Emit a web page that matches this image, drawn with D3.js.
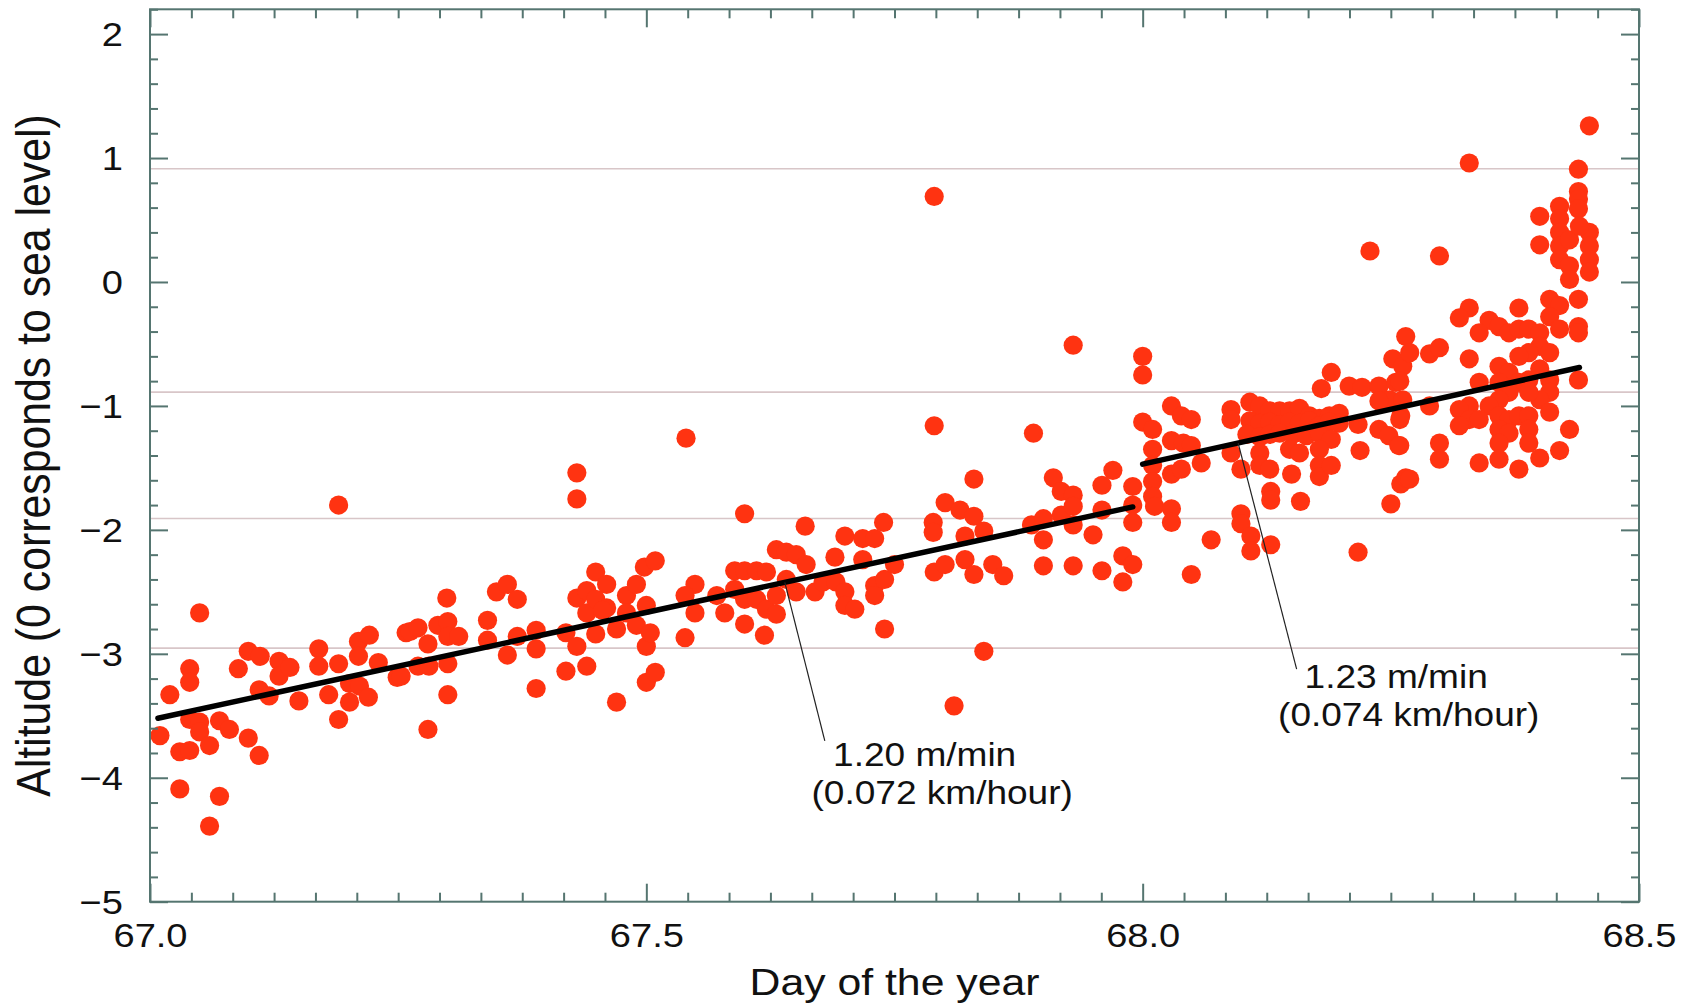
<!DOCTYPE html>
<html><head><meta charset="utf-8">
<script src="https://cdn.jsdelivr.net/npm/d3@7"></script>
<style>
html,body{margin:0;padding:0;background:#fff;}
svg{display:block;font-family:"Liberation Sans",Arial,Helvetica,sans-serif;}
</style>
</head><body>
<svg id="chart" width="1690" height="1007"></svg>
<script>
// ---------- data ----------
const xDomain = [67.0, 68.5];
const yDomain = [-5, 2.2];
const xMajorTicks = [67.0, 67.5, 68.0, 68.5];
const yMajorTicks = [-5, -4, -3, -2, -1, 0, 1, 2];
const gridValues = [0.913, -0.889, -1.908, -2.954];
const fitLine1 = [[67.008, -3.52], [67.990, -1.815]];
const fitLine2 = [[68.000, -1.47], [68.440, -0.69]];
const xTitle = "Day of the year";
const yTitle = "Altitude (0 corresponds to sea level)";
const annotationText1 = ["1.20 m/min", "(0.072 km/hour)"];
const annotationText2 = ["1.23 m/min", "(0.074 km/hour)"];

const points = [
[67.190,-1.80],[67.050,-2.67],[67.020,-3.33],[67.040,-3.12],[67.040,-3.23],[67.010,-3.66],[67.040,-3.53],[67.050,-3.55],[67.050,-3.63],[67.030,-3.79],[67.040,-3.78],[67.060,-3.74],[67.070,-3.54],[67.080,-3.61],[67.030,-4.09],[67.070,-4.15],[67.060,-4.39],[67.089,-3.12],[67.099,-2.98],[67.111,-3.02],[67.099,-3.68],[67.110,-3.82],[67.110,-3.29],[67.120,-3.34],[67.130,-3.06],[67.130,-3.18],[67.141,-3.11],[67.150,-3.38],[67.170,-2.96],[67.170,-3.10],[67.180,-3.33],[67.190,-3.08],[67.190,-3.53],[67.201,-3.39],[67.201,-3.24],[67.210,-2.90],[67.210,-3.02],[67.211,-3.26],[67.220,-3.35],[67.221,-2.85],[67.230,-3.07],[67.249,-3.19],[67.258,-2.83],
[67.430,-1.54],[67.430,-1.75],[67.299,-2.55],[67.349,-2.50],[67.360,-2.44],[67.370,-2.56],[67.340,-2.73],[67.340,-2.89],[67.262,-2.82],[67.270,-2.79],[67.280,-2.92],[67.270,-3.10],[67.281,-3.10],[67.253,-3.18],[67.290,-2.77],[67.300,-2.74],[67.300,-2.86],[67.311,-2.86],[67.300,-3.08],[67.300,-3.33],[67.280,-3.61],[67.360,-3.01],[67.370,-2.86],[67.389,-2.81],[67.389,-2.96],[67.389,-3.28],[67.419,-2.83],[67.419,-3.14],[67.430,-2.94],[67.430,-2.55],[67.440,-3.10],[67.440,-2.67],[67.440,-2.49],[67.449,-2.34],[67.449,-2.56],[67.449,-2.84],[67.460,-2.44],[67.460,-2.63],[67.470,-2.80],[67.470,-3.39],[67.480,-2.53],[67.480,-2.67],[67.490,-2.44],[67.498,-2.30],[67.509,-2.25],[67.500,-2.61],[67.500,-2.94],[67.500,-3.23],[67.509,-3.15],[67.490,-2.77],[67.456,-2.65],
[67.540,-1.26],[67.599,-1.87],[67.660,-1.97],[67.700,-2.05],[67.718,-2.07],[67.730,-2.07],[67.739,-1.94],[67.549,-2.44],[67.539,-2.53],[67.549,-2.67],[67.539,-2.87],[67.504,-2.83],[67.571,-2.53],[67.579,-2.67],[67.589,-2.33],[67.599,-2.33],[67.611,-2.33],[67.621,-2.34],[67.589,-2.48],[67.599,-2.56],[67.599,-2.76],[67.611,-2.56],[67.621,-2.64],[67.631,-2.68],[67.619,-2.85],[67.631,-2.53],[67.631,-2.16],[67.641,-2.18],[67.651,-2.20],[67.661,-2.28],[67.651,-2.50],[67.670,-2.50],[67.678,-2.42],[67.690,-2.22],[67.691,-2.42],[67.700,-2.50],[67.700,-2.61],[67.710,-2.64],[67.718,-2.24],[67.730,-2.45],[67.730,-2.53],[67.740,-2.40],[67.740,-2.80],[67.750,-2.28],[67.641,-2.40],
[67.790,0.69],[67.930,-0.51],[68.000,-0.60],[68.000,-0.75],[67.790,-1.16],[67.890,-1.22],[68.000,-1.13],[68.010,-1.19],[67.830,-1.59],[67.910,-1.58],[67.970,-1.52],[67.959,-1.64],[67.918,-1.69],[67.930,-1.72],[67.801,-1.78],[67.816,-1.84],[67.830,-1.89],[67.789,-1.94],[67.789,-2.02],[67.821,-2.05],[67.840,-2.01],[67.888,-1.96],[67.900,-1.91],[67.900,-2.08],[67.918,-1.88],[67.930,-1.81],[67.930,-1.96],[67.950,-2.04],[67.959,-1.84],[67.990,-1.65],[67.990,-1.80],[67.990,-1.94],[68.010,-1.35],[68.010,-1.48],[68.010,-1.61],[68.010,-1.73],[67.790,-2.34],[67.801,-2.28],[67.821,-2.24],[67.830,-2.36],[67.849,-2.28],[67.860,-2.37],[67.900,-2.29],[67.930,-2.29],[67.959,-2.33],[67.980,-2.21],[67.990,-2.28],[67.980,-2.42],[67.840,-2.98],[67.810,-3.42],
[68.229,0.25],[68.190,-0.73],[68.180,-0.86],[68.265,-0.44],[68.252,-0.62],[68.262,-0.68],[68.208,-0.84],[68.221,-0.85],[68.238,-0.84],[68.255,-0.81],[68.012,-1.81],
[68.029,-1.00],[68.039,-1.08],[68.049,-1.11],[68.029,-1.28],[68.041,-1.30],[68.049,-1.32],[68.029,-1.55],[68.039,-1.51],[68.059,-1.46],[68.029,-1.83],[68.029,-1.94],[68.069,-2.08],[68.049,-2.36],[68.089,-1.03],[68.089,-1.11],[68.089,-1.38],[68.099,-1.51],[68.099,-1.87],[68.099,-1.95],[68.109,-2.05],[68.109,-2.17],[68.129,-2.12],
[68.108,-0.97],[68.118,-1.00],[68.128,-1.04],[68.138,-1.04],[68.148,-1.04],[68.158,-1.02],[68.168,-1.08],[68.178,-1.10],[68.188,-1.08],[68.198,-1.06],
[68.108,-1.12],[68.118,-1.14],[68.128,-1.13],[68.138,-1.15],[68.148,-1.13],[68.158,-1.14],[68.168,-1.12],[68.178,-1.16],[68.188,-1.13],[68.198,-1.14],
[68.105,-1.23],[68.118,-1.25],[68.128,-1.23],[68.138,-1.22],[68.151,-1.23],[68.165,-1.24],[68.178,-1.22],[68.190,-1.27],
[68.118,-1.38],[68.118,-1.48],[68.128,-1.51],[68.148,-1.35],[68.158,-1.38],[68.150,-1.55],[68.129,-1.69],[68.129,-1.76],[68.159,-1.77],[68.178,-1.35],[68.178,-1.48],[68.178,-1.57],[68.190,-1.48],
[68.217,-1.15],[68.219,-1.36],[68.238,-1.19],[68.248,-1.24],[68.258,-1.32],[68.260,-1.63],[68.250,-1.79],[68.217,-2.18],[68.260,-1.08],[68.265,-1.58],[68.249,-0.95],[68.262,-0.95],[68.238,-0.96],
[68.450,1.26],[68.329,0.96],[68.439,0.91],[68.439,0.73],[68.439,0.67],[68.439,0.59],[68.420,0.61],[68.400,0.53],[68.400,0.30],[68.420,0.51],[68.420,0.40],[68.420,0.29],[68.420,0.18],[68.430,0.34],[68.430,0.13],[68.430,0.02],[68.450,0.40],[68.450,0.29],[68.450,0.18],[68.450,0.08],[68.440,0.45],[68.439,-0.14],[68.439,-0.36],[68.439,-0.41],[68.439,-0.79],[68.299,0.21],[68.329,-0.21],[68.319,-0.29],[68.379,-0.21],[68.410,-0.14],[68.420,-0.19],[68.410,-0.28],[68.349,-0.31],[68.359,-0.36],[68.339,-0.41],[68.369,-0.41],[68.379,-0.38],[68.389,-0.38],[68.400,-0.41],[68.420,-0.38],[68.400,-0.52],[68.389,-0.57],[68.379,-0.60],[68.410,-0.57],[68.329,-0.62],[68.359,-0.68],[68.369,-0.73],[68.339,-0.81],[68.359,-0.81],[68.379,-0.81],[68.389,-0.79],[68.400,-0.70],[68.410,-0.79],[68.410,-0.89],[68.400,-0.95],[68.389,-0.89],[68.369,-0.89],[68.359,-0.95],[68.349,-1.00],[68.329,-1.00],[68.319,-1.03],[68.329,-1.11],[68.339,-1.11],[68.359,-1.08],[68.369,-1.11],[68.379,-1.08],[68.389,-1.08],[68.359,-1.19],[68.369,-1.22],[68.389,-1.19],[68.389,-1.30],[68.359,-1.30],[68.359,-1.43],[68.339,-1.46],[68.379,-1.51],[68.400,-1.42],[68.420,-1.36],[68.430,-1.19],[68.410,-1.05],[68.319,-1.16],[68.299,-1.30],[68.299,-1.43],[68.289,-1.00],[68.269,-0.57],[68.289,-0.58],[68.299,-0.53],[68.259,-0.80],[68.259,-1.11],[68.259,-1.32],[68.269,-1.59]
];

// annotation anchors in data units: leader from fit line at `at`, leader end, text line starts
const annotations = [
  {line: fitLine1, at: 67.6395, end: [67.6798, -3.702], text: annotationText1, textPos: [[67.6881, -3.903], [67.6664, -4.212]]},
  {line: fitLine2, at: 68.0962, end: [68.1551, -3.123], text: annotationText2, textPos: [[68.1631, -3.277], [68.1364, -3.583]]}
];

// ---------- layout ----------
const W = 1690, H = 1007;
const margin = {left: 150, right: 51, top: 9.3, bottom: 105.3};
const SX = 1.12;           // horizontal stretch of the glyphs in the reference
const axisColor = "#557570";
const fontSize = 34;

const svg = d3.select("#chart");
const x = d3.scaleLinear().domain(xDomain).range([margin.left, W - margin.right]);
const y = d3.scaleLinear().domain(yDomain).range([H - margin.bottom, margin.top]);

// gridlines
svg.append("g").selectAll("line").data(gridValues).join("line")
  .attr("x1", x(xDomain[0])).attr("x2", x(xDomain[1]))
  .attr("y1", d => y(d)).attr("y2", d => y(d))
  .attr("stroke", "#d8c6c8").attr("stroke-width", 1.6);

// points
svg.append("g").selectAll("circle").data(points).join("circle")
  .attr("cx", d => x(d[0])).attr("cy", d => y(d[1]))
  .attr("r", 9.6).attr("fill", "#ff3311");

// fit lines
const lineGen = d3.line().x(d => x(d[0])).y(d => y(d[1]));
svg.append("g").selectAll("path").data([fitLine1, fitLine2]).join("path")
  .attr("d", lineGen).attr("fill", "none").attr("stroke", "#000")
  .attr("stroke-width", 5.5).attr("stroke-linecap", "round");

// annotations
function lineAt(line, d) {
  const [[x0, y0], [x1, y1]] = line;
  return y0 + (y1 - y0) * (d - x0) / (x1 - x0);
}
const ag = svg.append("g");
annotations.forEach(a => {
  ag.append("line")
    .attr("x1", x(a.at)).attr("y1", y(lineAt(a.line, a.at)))
    .attr("x2", x(a.end[0])).attr("y2", y(a.end[1]))
    .attr("stroke", "#222").attr("stroke-width", 1.2);
  a.text.forEach((t, i) => {
    ag.append("text")
      .attr("transform", `translate(${x(a.textPos[i][0])},${y(a.textPos[i][1])}) scale(1.14,1)`)
      .attr("font-size", 32.5).attr("fill", "#111").text(t);
  });
});

// axes
const xMinor = d3.range(0, 37).map(i => 67 + i / 24).filter(v => !xMajorTicks.some(m => Math.abs(m - v) < 1e-6));
const yMinor = d3.range(0, 37).map(i => -5 + i * 0.2).filter(v => v <= 2.2 + 1e-6 && !yMajorTicks.some(m => Math.abs(m - v) < 1e-6));

function styleAxis(g) {
  g.select(".domain").remove();
  g.selectAll(".tick line").attr("stroke", axisColor).attr("stroke-width", 2);
  g.selectAll("text").attr("fill", "#111").attr("font-size", fontSize)
    .attr("font-family", "'Liberation Sans',Arial,Helvetica,sans-serif");
}
const plotBottom = H - margin.bottom;
// bottom
svg.append("g").attr("transform", `translate(0,${plotBottom})`)
  .call(d3.axisBottom(x).tickValues(xMinor).tickSize(-9).tickFormat("")).call(styleAxis);
svg.append("g").attr("class", "xmaj").attr("transform", `translate(0,${plotBottom})`)
  .call(d3.axisBottom(x).tickValues(xMajorTicks).tickSize(-18).tickPadding(21).tickFormat(d3.format(".1f")))
  .call(styleAxis);
svg.selectAll(".xmaj text").attr("transform", `scale(${SX},1)`);
// top
svg.append("g").attr("transform", `translate(0,${margin.top})`)
  .call(d3.axisTop(x).tickValues(xMinor).tickSize(-9).tickFormat("")).call(styleAxis);
svg.append("g").attr("transform", `translate(0,${margin.top})`)
  .call(d3.axisTop(x).tickValues(xMajorTicks).tickSize(-18).tickFormat("")).call(styleAxis);
// left
svg.append("g").attr("transform", `translate(${margin.left},0)`)
  .call(d3.axisLeft(y).tickValues(yMinor).tickSize(-8).tickFormat("")).call(styleAxis);
const yl = svg.append("g").attr("transform", `translate(${margin.left},0)`)
  .call(d3.axisLeft(y).tickValues(yMajorTicks).tickSize(-18).tickPadding(27).tickFormat(d3.format("d")))
  .call(styleAxis);
yl.selectAll("text").attr("x", -27 / SX).attr("transform", `scale(${SX},1)`).attr("dy", "0.35em");
// right
svg.append("g").attr("transform", `translate(${W - margin.right},0)`)
  .call(d3.axisRight(y).tickValues(yMinor).tickSize(-8).tickFormat("")).call(styleAxis);
svg.append("g").attr("transform", `translate(${W - margin.right},0)`)
  .call(d3.axisRight(y).tickValues(yMajorTicks).tickSize(-18).tickFormat("")).call(styleAxis);

// frame
svg.append("rect")
  .attr("x", x(xDomain[0])).attr("y", y(yDomain[1]))
  .attr("width", x(xDomain[1]) - x(xDomain[0])).attr("height", y(yDomain[0]) - y(yDomain[1]))
  .attr("fill", "none").attr("stroke", axisColor).attr("stroke-width", 2);

// titles
svg.append("text")
  .attr("transform", `translate(${(x(xDomain[0]) + x(xDomain[1])) / 2},995) scale(1.14,1)`)
  .attr("text-anchor", "middle").attr("font-size", 37.5).attr("fill", "#111").text(xTitle);
svg.append("text")
  .attr("transform", `translate(50,${(y(yDomain[0]) + y(yDomain[1])) / 2}) scale(1.14,1) rotate(-90)`)
  .attr("text-anchor", "middle").attr("font-size", 42.8).attr("fill", "#111").text(yTitle);
</script>
</body></html>
